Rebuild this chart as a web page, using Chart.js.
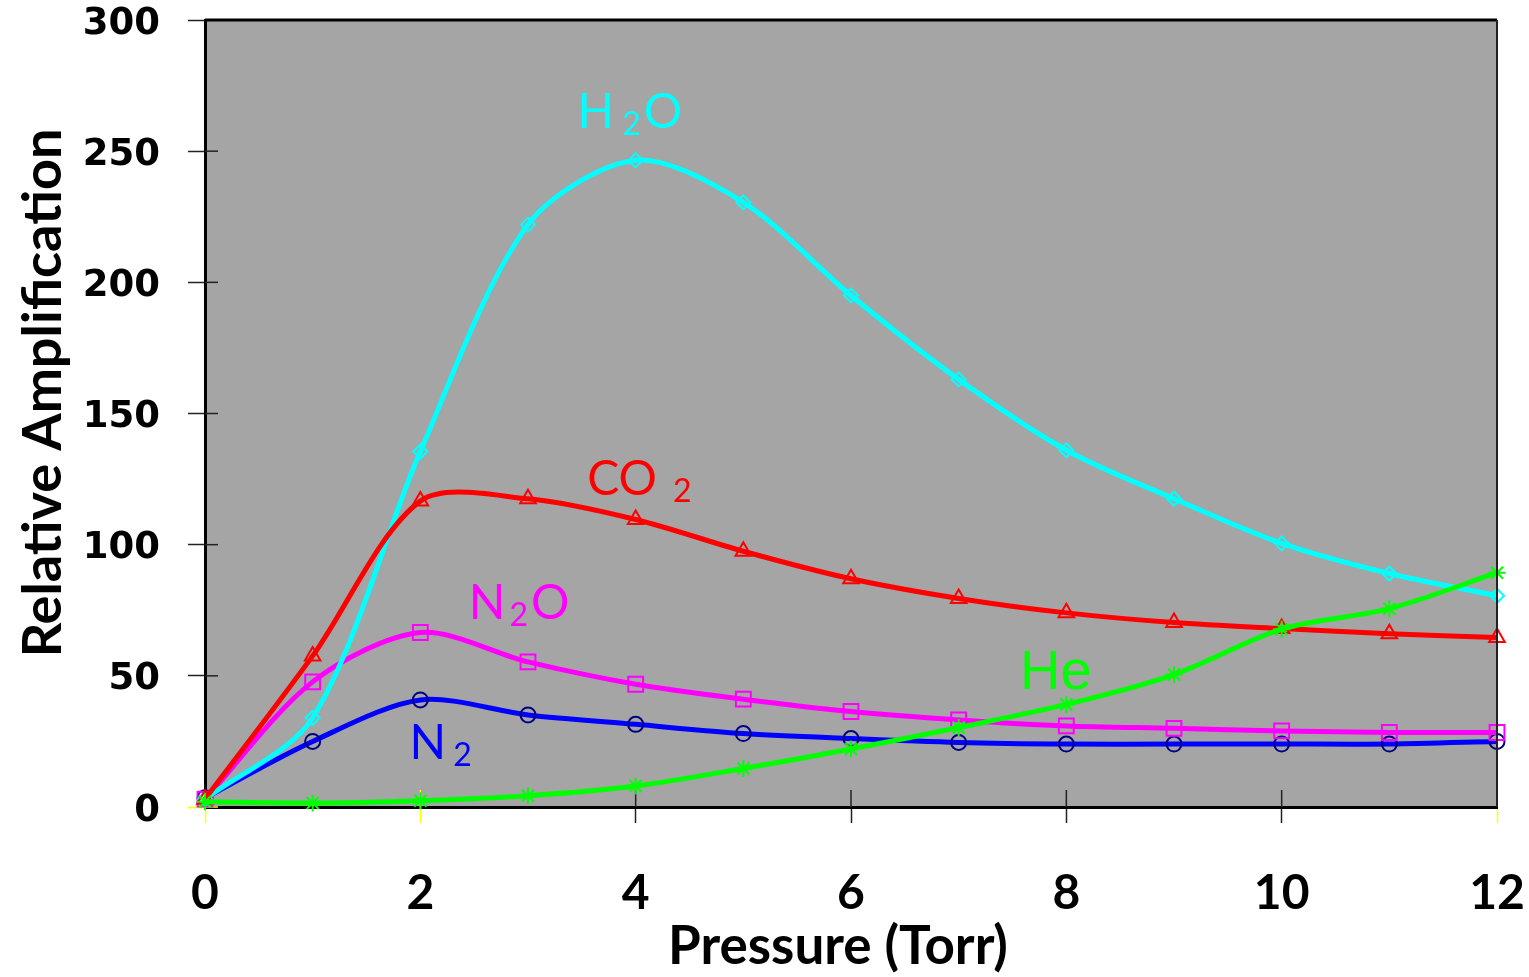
<!DOCTYPE html>
<html>
<head>
<meta charset="utf-8">
<title>Relative Amplification vs Pressure</title>
<script src="https://cdn.jsdelivr.net/npm/chart.js@4.4.1/dist/chart.umd.min.js"></script>
<style>
  html, body { margin: 0; padding: 0; background: #ffffff; }
  #wrap { width: 1529px; height: 977px; }
</style>
</head>
<body>
<div id="wrap"><canvas id="chart" width="1529" height="977"></canvas></div>
<script>
// Данные
const pressure = [0, 1, 2, 3, 4, 5, 6, 7, 8, 9, 10, 11, 12];
const h2o = [3, 34, 135.5, 222, 246.5, 230.5, 195, 163, 136, 117.5, 100.5, 89, 80.5];
const co2 = [3, 57.6, 116.6, 117.5, 109.6, 97.5, 87, 79.5, 74, 70.3, 68, 66, 64.6];
const n2o = [3, 47.7, 66.5, 55.3, 46.8, 41.1, 36.4, 33.2, 30.9, 30, 29, 28.4, 28.4];
const n2 = [3.5, 25, 40.8, 35.1, 31.5, 28, 26.1, 24.6, 24, 24, 24, 24, 25];
const he = [2, 1.5, 2.4, 4.3, 8, 14.7, 22.1, 30.3, 39.1, 50.5, 67.8, 75.6, 89.3];

const xTicks = [0, 2, 4, 6, 8, 10, 12];
const yTicks = [0, 50, 100, 150, 200, 250, 300];
const yellowX = [0, 2, 12];

// Подписи кривых: [части текста], координаты в единицах данных
const curveLabels = [
    { parts: [['H'], ['2', true], ['O']], x: 3.46, y: 259, color: '#00FFFF', font: 'Lato', size: 48, gaps: [8, 3] },
    { parts: [['CO'], ['2', true]], x: 3.55, y: 119, color: '#FF0000', font: 'Lato', size: 48, gaps: [16] },
    { parts: [['N'], ['2', true], ['O']], x: 2.45, y: 71.5, color: '#FF00FF', font: 'Lato', size: 48, gaps: [4, 3] },
    { parts: [['N'], ['2', true]], x: 1.9, y: 18.3, color: '#0000FF', font: 'Lato', size: 48, gaps: [7] },
    { parts: [['He']], x: 7.57, y: 44.9, color: '#00FF00', font: 'Liberation Sans', size: 56, gaps: [] }
];

function toPoints(values) {
    return pressure.map((p, i) => ({ x: p, y: values[i] }));
}

function series(label, values, color, style, radius, pointColor) {
    return {
        label: label,
        data: toPoints(values),
        borderColor: color,
        borderWidth: 5,
        tension: 0.3,
        pointStyle: style,
        pointRadius: radius,
        pointBorderWidth: 2,
        pointBorderColor: pointColor || color,
        pointBackgroundColor: 'rgba(0,0,0,0)',
        clip: false
    };
}

const plotPlugin = {
    id: 'plotDecor',
    beforeDraw(chart) {
        const { ctx, chartArea: a } = chart;
        ctx.save();
        ctx.fillStyle = '#ffffff';
        ctx.fillRect(0, 0, chart.width, chart.height);
        ctx.fillStyle = '#A5A5A5';
        ctx.fillRect(a.left, a.top, a.right - a.left, a.bottom - a.top);
        ctx.restore();
    },
    beforeDatasetsDraw(chart) {
        // внутренние части засечек
        const { ctx, chartArea: a, scales } = chart;
        ctx.save();
        ctx.lineWidth = 1.5;
        scales.x.ticks.forEach(t => {
            const px = scales.x.getPixelForValue(t.value);
            ctx.strokeStyle = yellowX.includes(t.value) ? '#FFFF00' : '#222222';
            ctx.beginPath();
            ctx.moveTo(px, a.bottom);
            ctx.lineTo(px, a.bottom - 17);
            ctx.stroke();
        });
        scales.y.ticks.forEach(t => {
            const py = scales.y.getPixelForValue(t.value);
            ctx.strokeStyle = t.value === 0 ? '#FFFF00' : '#222222';
            ctx.beginPath();
            ctx.moveTo(a.left, py);
            ctx.lineTo(a.left + 13, py);
            ctx.stroke();
        });
        ctx.restore();
    },
    afterDraw(chart) {
        const { ctx, chartArea: a, scales } = chart;
        ctx.save();
        // верхняя и правая рамка
        ctx.strokeStyle = '#000000';
        ctx.lineWidth = 3;
        ctx.beginPath();
        ctx.moveTo(a.left, a.top);
        ctx.lineTo(a.right, a.top);
        ctx.stroke();
        ctx.strokeStyle = '#222222';
        ctx.lineWidth = 2;
        ctx.beginPath();
        ctx.moveTo(a.right, a.top);
        ctx.lineTo(a.right, a.bottom);
        ctx.stroke();

        // подписи кривых
        ctx.textBaseline = 'alphabetic';
        ctx.textAlign = 'left';
        curveLabels.forEach(lbl => {
            let px = scales.x.getPixelForValue(lbl.x);
            const py = scales.y.getPixelForValue(lbl.y);
            ctx.fillStyle = lbl.color;
            lbl.parts.forEach((part, i) => {
                const sub = part[1] === true;
                const size = sub ? Math.round(lbl.size * 0.66) : lbl.size;
                ctx.font = size + 'px "' + lbl.font + '"';
                ctx.fillText(part[0], px, py + (sub ? 7 : 0));
                px += ctx.measureText(part[0]).width + (lbl.gaps[i] || 0);
            });
        });

        // названия осей
        ctx.fillStyle = '#000000';
        ctx.font = 'bold 53px Lato';
        ctx.textAlign = 'center';
        ctx.fillText('Pressure (Torr)', 838, 964);
        ctx.translate(61, 393);
        ctx.rotate(-Math.PI / 2);
        ctx.font = 'bold 54px Lato';
        ctx.fillText('Relative Amplification', 0, 0);
        ctx.restore();
    }
};

new Chart(document.getElementById('chart').getContext('2d'), {
    type: 'line',
    data: {
        datasets: [
            series('He', he, '#00FF00', 'star', 8.5),
            series('CO2', co2, '#FF0000', 'triangle', 9),
            series('H2O', h2o, '#00FFFF', 'rectRot', 7),
            series('N2O', n2o, '#FF00FF', 'rect', 10.5),
            series('N2', n2, '#0000FF', 'circle', 7.5, '#000080')
        ]
    },
    options: {
        responsive: false,
        animation: false,
        layout: { padding: { top: 20, right: 32, left: 0, bottom: 0 } },
        plugins: {
            legend: { display: false },
            tooltip: { enabled: false }
        },
        scales: {
            x: {
                type: 'linear',
                min: 0,
                max: 12,
                afterBuildTicks: scale => { scale.ticks = xTicks.map(v => ({ value: v })); },
                afterFit: scale => {
                    scale.height = 170;
                    scale.paddingLeft = 0;
                    scale.paddingRight = 0;
                },
                ticks: {
                    autoSkip: false,
                    maxRotation: 0,
                    padding: 47,
                    color: '#000000',
                    font: { family: 'Lato', weight: 'bold', size: 48, lineHeight: 1 }
                },
                grid: {
                    drawOnChartArea: false,
                    drawTicks: true,
                    tickLength: 16,
                    tickWidth: 1.5,
                    tickColor: c => yellowX.includes(c.tick.value) ? '#FFFF00' : '#222222'
                },
                border: { display: true, color: '#000000', width: 3 }
            },
            y: {
                min: 0,
                max: 300,
                afterBuildTicks: scale => { scale.ticks = yTicks.map(v => ({ value: v })); },
                afterFit: scale => {
                    scale.width = 205;
                    scale.paddingTop = 0;
                    scale.paddingBottom = 0;
                },
                ticks: {
                    padding: 28,
                    labelOffset: 4,
                    color: '#000000',
                    font: { family: 'DejaVu Sans', weight: 'bold', size: 37, lineHeight: 1 }
                },
                grid: {
                    drawOnChartArea: false,
                    drawTicks: true,
                    tickLength: 17,
                    tickWidth: 1.5,
                    tickColor: c => c.tick.value === 0 ? '#FFFF00' : '#222222'
                },
                border: { display: true, color: '#000000', width: 3 }
            }
        }
    },
    plugins: [plotPlugin]
});
</script>
</body>
</html>
